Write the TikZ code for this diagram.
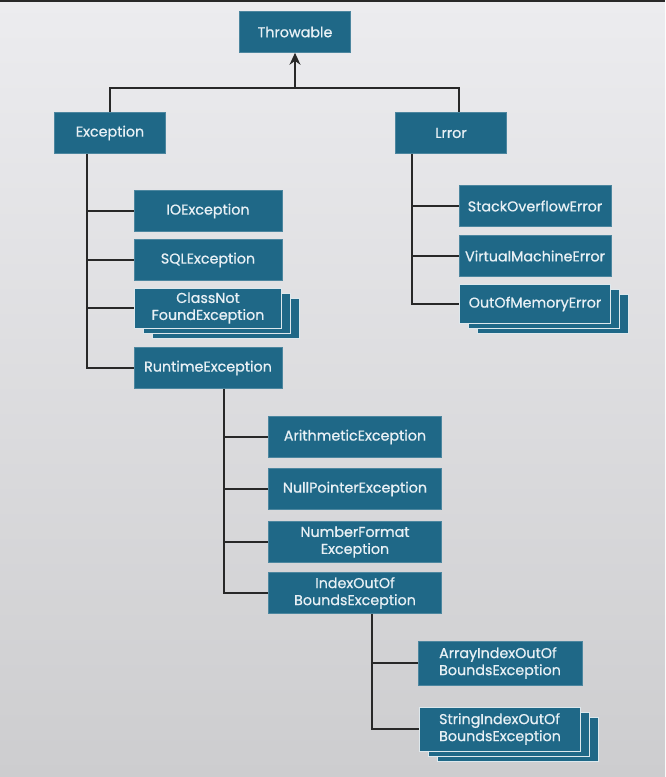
\documentclass[tikz,border=0pt]{standalone}
\usepackage{fontspec}
\newfontfamily\boxfont[FakeBold=0.7]{Poppins}
\usetikzlibrary{arrows.meta,shadows}
\definecolor{boxblue}{RGB}{31,104,135}
\definecolor{boxtext}{RGB}{232,240,245}
\definecolor{linegray}{RGB}{40,40,40}
\definecolor{bgtop}{RGB}{236,236,239}
\definecolor{bgbot}{RGB}{205,205,207}

\begin{document}
\begin{tikzpicture}[x=1pt,y=-1pt,>={Stealth[length=12pt,width=11pt]},
  class node/.style={rectangle,fill=boxblue,draw=boxblue!80!white,line width=0.6pt,
    text=boxtext,font=\boxfont\fontsize{14.3}{17}\selectfont,inner sep=0pt,
    minimum height=41pt,align=center},
  stack node/.style={class node,draw=white!85!boxblue,line width=1pt,
    double copy shadow={shadow xshift=9pt,shadow yshift=-5pt}},
  link/.style={draw=linegray,line width=1.3pt}]

  % background
  \shade[top color=bgtop,bottom color=bgbot] (0,0) rectangle (665,777);
  \fill[linegray] (0,0) rectangle (665,2);

  % root
  \node[class node,minimum width=111pt] (thr) at (295,32) {Throwable};
  \node[class node,minimum width=111pt] (exc) at (110,133) {Exception};
  \node[class node,minimum width=111pt] (err) at (451,133) {Lrror};

  % errors
  \node[class node,minimum width=152pt] (soe) at (535,206) {StackOverflowError};
  \node[class node,minimum width=152pt] (vme) at (535,256) {VirtualMachineError};
  \node[stack node,minimum width=151pt,minimum height=39pt] (oom) at (535,304) {OutOfMemoryError};

  % checked exceptions
  \node[class node,minimum width=148pt] (ioe) at (208,211) {IOException};
  \node[class node,minimum width=148pt] (sql) at (208,260) {SQLException};
  \node[stack node,minimum width=147pt,minimum height=40pt] (cnf) at (208,308) {ClassNot\\FoundException};
  \node[class node,minimum width=148pt] (rte) at (208,368) {RuntimeException};

  % runtime exceptions
  \node[class node,minimum width=173pt] (ari) at (355,437) {ArithmeticException};
  \node[class node,minimum width=173pt] (npe) at (355,489) {NullPointerException};
  \node[class node,minimum width=173pt] (nfe) at (355,542) {NumberFormat\\Exception};
  \node[class node,minimum width=173pt] (iob) at (355,593) {IndexOutOf\\BoundsException};

  % index exceptions
  \node[class node,minimum width=164pt,minimum height=44pt,align=left] (aio) at (500,663) {ArrayIndexOutOf\\BoundsException};
  \node[stack node,minimum width=161pt,minimum height=44pt,align=left] (sio) at (500,729) {StringIndexOutOf\\BoundsException};

  \coordinate (top) at (295,88);
  \path[link] (exc.north) |- (top) -| ([xshift=8pt]err.north);
  \draw[link,->] (top) -- (thr.south);

  \path[link]
    ([xshift=-23pt]exc.south) |- (ioe.west)
    ([xshift=-23pt]exc.south) |- (sql.west)
    ([xshift=-23pt]exc.south) |- (cnf.west)
    ([xshift=-23pt]exc.south) |- (rte.west)
    ([xshift=-39pt]err.south) |- (soe.west)
    ([xshift=-39pt]err.south) |- (vme.west)
    ([xshift=-39pt]err.south) |- (oom.west)
    ([xshift=16pt]rte.south) |- (ari.west)
    ([xshift=16pt]rte.south) |- (npe.west)
    ([xshift=16pt]rte.south) |- (nfe.west)
    ([xshift=16pt]rte.south) |- (iob.west)
    ([xshift=17pt]iob.south) |- (aio.west)
    ([xshift=17pt]iob.south) |- (sio.west)
    ;

\end{tikzpicture}
\end{document}
